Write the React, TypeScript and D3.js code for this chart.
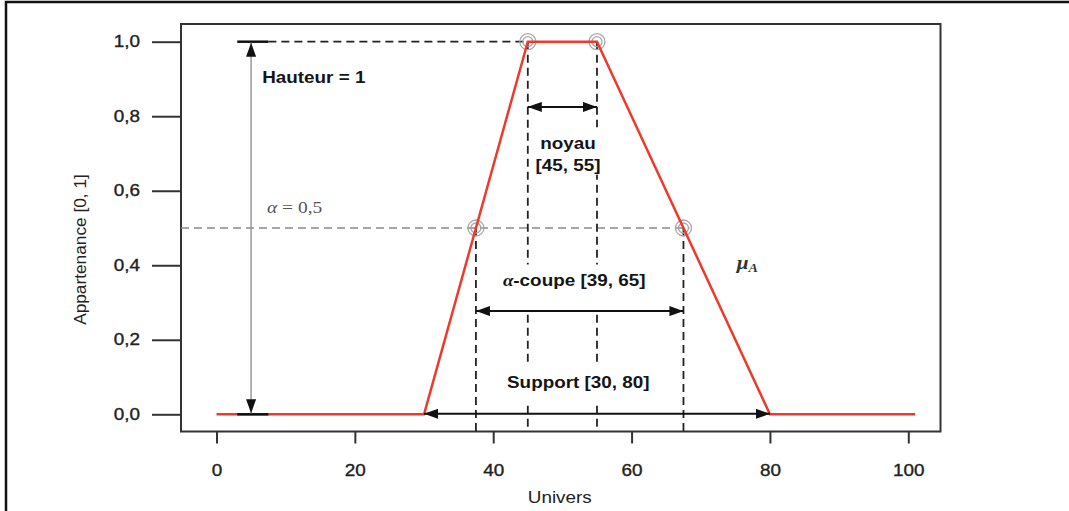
import React, { useRef, useEffect } from "react";
import * as d3 from "d3";

// trapezoidal membership function
const univers = [0, 30, 45, 55, 80, 101];
const appartenance = [0, 0, 1, 1, 0, 0];

const xTicks = [0, 20, 40, 60, 80, 100];
const yTicks = [0, 0.2, 0.4, 0.6, 0.8, 1.0];

const hauteur = 1;
const alpha = 0.5;
const noyau = [45, 55];
const alphaCoupe = [37.5, 67.5]; // where the red line crosses alpha
const support = [30, 80];
const markedPoints = [
  [45, 1],
  [55, 1],
  [37.5, 0.5],
  [67.5, 0.5],
];

const xTitle = "Univers";
const yTitle = "Appartenance [0, 1]";
const hauteurLabel = "Hauteur = 1";
const noyauLabel = ["noyau", "[45, 55]"];
const alphaLabel = "-coupe [39, 65]";
const supportLabel = "Support [30, 80]";

const W = 1069;
const H = 511;
const frame = { left: 181, right: 940.5, top: 24, bottom: 431.5 };
const STRETCH = 1.18;
const SANS = "'Liberation Sans', Arial, Helvetica, sans-serif";
const SERIF = "'Liberation Serif', 'DejaVu Serif', serif";

const App = () => {
  const svgRef = useRef(null);

  useEffect(() => {
    const svg = d3.select(svgRef.current);
    svg.selectAll("*").remove();

    const x = d3.scaleLinear().domain([0, 100]).range([216.5, 908.3]);
    const y = d3.scaleLinear().domain([0, 1]).range([414.3, 41.7]);

    const stretchAt = (x0) => `translate(${x0},0) scale(${STRETCH},1) translate(${-x0},0)`;

    // outer border of the figure
    svg
      .append("rect")
      .attr("x", 6)
      .attr("y", 2)
      .attr("width", W + 20)
      .attr("height", H + 20)
      .attr("fill", "#fff")
      .attr("stroke", "#111")
      .attr("stroke-width", 2.5);

    svg
      .append("defs")
      .append("marker")
      .attr("id", "head")
      .attr("viewBox", "0 0 14 10")
      .attr("refX", 14)
      .attr("refY", 5)
      .attr("markerWidth", 14)
      .attr("markerHeight", 10)
      .attr("markerUnits", "userSpaceOnUse")
      .attr("orient", "auto-start-reverse")
      .append("path")
      .attr("d", "M0,0L14,5L0,10Z")
      .attr("fill", "#111");

    // plot frame
    svg
      .append("rect")
      .attr("x", frame.left)
      .attr("y", frame.top)
      .attr("width", frame.right - frame.left)
      .attr("height", frame.bottom - frame.top)
      .attr("fill", "none")
      .attr("stroke", "#333")
      .attr("stroke-width", 2);

    // y axis
    const gy = svg
      .append("g")
      .attr("transform", `translate(${frame.left},0)`)
      .call(
        d3
          .axisLeft(y)
          .tickValues(yTicks)
          .tickSize(29)
          .tickPadding(12)
          .tickFormat((d) => d3.format(".1f")(d).replace(".", ","))
      )
      .attr("font-size", 16)
      .attr("font-family", SANS);
    gy.select(".domain").remove();
    gy.selectAll(".tick line").attr("stroke", "#333").attr("stroke-width", 2);
    gy.selectAll(".tick text")
      .attr("fill", "#222")
      .attr("stroke", "#222")
      .attr("stroke-width", 0.35)
      .attr("transform", stretchAt(-41));

    // x axis
    const gx = svg
      .append("g")
      .attr("transform", `translate(0,${frame.bottom})`)
      .call(d3.axisBottom(x).tickValues(xTicks).tickSize(12).tickPadding(21).tickFormat(d3.format("d")))
      .attr("font-size", 16)
      .attr("font-family", SANS);
    gx.select(".domain").remove();
    gx.selectAll(".tick line").attr("stroke", "#333").attr("stroke-width", 2);
    gx.selectAll(".tick text")
      .attr("fill", "#222")
      .attr("stroke", "#222")
      .attr("stroke-width", 0.35)
      .attr("transform", `scale(${STRETCH},1)`);

    // axis titles
    svg
      .append("text")
      .attr("transform", `translate(${(frame.left + frame.right) / 2 - 1},503) scale(${STRETCH},1)`)
      .attr("text-anchor", "middle")
      .attr("font-family", SANS)
      .attr("font-size", 16)
      .attr("fill", "#222")
      .text(xTitle);

    svg
      .append("text")
      .attr("transform", `translate(85.5,249.5) rotate(-90) scale(1.08,1)`)
      .attr("text-anchor", "middle")
      .attr("font-family", SANS)
      .attr("font-size", 16)
      .attr("fill", "#222")
      .text(yTitle);

    // alpha level guide (grey dashes)
    svg
      .append("line")
      .attr("x1", frame.left)
      .attr("x2", x(alphaCoupe[1]) + 6)
      .attr("y1", y(alpha))
      .attr("y2", y(alpha))
      .attr("stroke", "#8a8a8a")
      .attr("stroke-width", 1.5)
      .attr("stroke-dasharray", "8,5");

    const dashed = (x1, y1, x2, y2) =>
      svg
        .append("line")
        .attr("x1", x1)
        .attr("y1", y1)
        .attr("x2", x2)
        .attr("y2", y2)
        .attr("stroke", "#222")
        .attr("stroke-width", 1.8)
        .attr("stroke-dasharray", "8,5");

    dashed(x(7.5), y(hauteur), x(noyau[0]), y(hauteur));
    noyau.forEach((v) => dashed(x(v), y(hauteur), x(v), frame.bottom));
    alphaCoupe.forEach((v) => dashed(x(v), y(alpha), x(v), frame.bottom));

    // labels, some with a white box that hides the dashes behind them
    const label = (px, py, anchor, build, pad = null) => {
      const g = svg.append("g").attr("transform", `translate(${px},${py})`);
      const t = g
        .append("text")
        .attr("transform", `scale(${STRETCH},1)`)
        .attr("text-anchor", anchor)
        .attr("font-family", SANS)
        .attr("font-size", 16)
        .attr("font-weight", "bold")
        .attr("fill", "#151515");
      build(t);
      if (pad) {
        const b = g.node().getBBox();
        g.insert("rect", ":first-child")
          .attr("x", b.x - pad[3])
          .attr("y", b.y - pad[0])
          .attr("width", b.width + pad[1] + pad[3])
          .attr("height", b.height + pad[0] + pad[2])
          .attr("fill", "#fff");
      }
      return g;
    };

    label(x(6.6), y(0.89), "start", (t) => t.text(hauteurLabel));

    label(x(7.3), y(0.54), "start", (t) => {
      t.attr("font-family", SERIF).attr("font-weight", "normal").attr("font-size", 16.5).attr("fill", "#555");
      t.append("tspan").attr("font-style", "italic").text("α");
      t.append("tspan").text(" = 0,5");
    });

    label(
      x(50.8),
      y(0.712),
      "middle",
      (t) => {
        t.append("tspan").attr("x", 0).text(noyauLabel[0]);
        t.append("tspan").attr("x", 0).attr("dy", 22).text(noyauLabel[1]);
      },
      [7, 6, 0, 6]
    );

    label(
      x(51.7),
      y(0.344),
      "middle",
      (t) => {
        t.append("tspan").attr("font-family", SERIF).attr("font-style", "italic").text("α");
        t.append("tspan").text(alphaLabel);
      },
      [7, 6, 21, 6]
    );

    label(x(52.3), y(0.071), "middle", (t) => t.text(supportLabel), [10, 6, 13, 6]);

    label(x(75.2), y(0.39), "start", (t) => {
      t.attr("font-family", SERIF).attr("font-style", "italic").attr("fill", "#333");
      t.append("tspan").attr("font-size", 18).text("μ");
      t.append("tspan").attr("font-size", 12).attr("dy", 3).text("A");
    });

    // grey rings on the characteristic points
    markedPoints.forEach(([px, py]) => {
      [8, 5].forEach((r) => {
        svg
          .append("circle")
          .attr("cx", x(px))
          .attr("cy", y(py))
          .attr("r", r)
          .attr("fill", "none")
          .attr("stroke", "#a8a8a8")
          .attr("stroke-width", 1.3);
      });
    });

    // membership function
    const line = d3
      .line()
      .x((d, i) => x(univers[i]))
      .y((d) => y(d));

    svg
      .append("path")
      .datum(appartenance)
      .attr("fill", "none")
      .attr("stroke", "#ee3a2c")
      .attr("stroke-width", 2.5)
      .attr("d", line);

    // height caps and arrow
    [0, hauteur].forEach((v) => {
      svg
        .append("line")
        .attr("x1", x(3))
        .attr("x2", x(7.5))
        .attr("y1", y(v))
        .attr("y2", y(v))
        .attr("stroke", "#111")
        .attr("stroke-width", 2.5);
    });

    const arrow = (x1, y1, x2, y2, color = "#111", w = 2) =>
      svg
        .append("line")
        .attr("x1", x1)
        .attr("y1", y1)
        .attr("x2", x2)
        .attr("y2", y2)
        .attr("stroke", color)
        .attr("stroke-width", w)
        .attr("marker-start", "url(#head)")
        .attr("marker-end", "url(#head)");

    arrow(x(5), y(0) - 1, x(5), y(hauteur) + 1, "#9a9a9a", 1.5);
    arrow(x(noyau[0]), y(0.825), x(noyau[1]), y(0.825));
    arrow(x(alphaCoupe[0]), y(0.277), x(alphaCoupe[1]), y(0.277));
    arrow(x(support[0]), y(0) - 0.5, x(support[1]), y(0) - 0.5);
  }, []);

  return <svg ref={svgRef} width={W} height={H} style={{ position: "absolute", left: 0, top: 0 }} />;
};

export default App;
